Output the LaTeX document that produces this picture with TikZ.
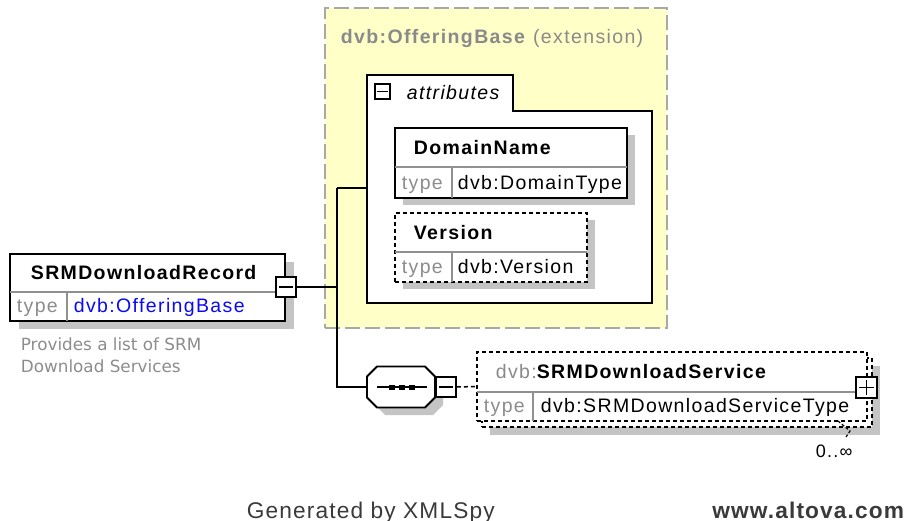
\documentclass[tikz,border=0pt]{standalone}
\usepackage{fontspec}
\setmainfont{Liberation Sans}
\newfontfamily\bxf{Liberation Sans}[LetterSpace=7]
\newfontfamily\dsf{DejaVu Sans}
\newfontfamily\ftf{Liberation Sans}[LetterSpace=5]
\definecolor{yel}{HTML}{FFFFC8}
\definecolor{yelborder}{HTML}{A8A8A8}
\definecolor{shd}{HTML}{C4C4C4}
\definecolor{divg}{HTML}{909090}
\definecolor{typeg}{HTML}{8C8C8C}
\definecolor{linkb}{HTML}{0A0AF5}
\definecolor{titleg}{HTML}{8A8A8A}
\definecolor{foot}{HTML}{3A3A3A}
\begin{document}
\begin{tikzpicture}[x=1pt,y=-1pt,line width=1.8pt,
  ebox/.style={draw=black,fill=white,line width=1.8pt,inner sep=0pt,minimum width=#1},
  dbox/.style={ebox=#1,dash pattern=on 4pt off 3pt},
  shadowbox/.style={fill=shd,draw=none,inner sep=0pt,minimum width=#1},
  divline/.style={draw=divg,line width=1.2pt},
  conn/.style={draw=black,line width=1.8pt},
  sq/.style={draw=black,fill=white,line width=1.8pt,inner sep=0pt,minimum size=#1},
  lbl/.style={inner sep=0pt,anchor=base west,font=\bxf\fontsize{19.5}{23}\selectfont},
  blbl/.style={lbl,font=\bxf\bfseries\fontsize{19.5}{23}\selectfont},
  tlbl/.style={lbl,text=typeg},
  desc/.style={inner sep=0pt,anchor=base west,text=typeg,font=\dsf\fontsize{16.8}{20}\selectfont},
  ftxt/.style={inner sep=0pt,anchor=base west,text=foot,font=\ftf\fontsize{22.7}{26}\selectfont}]
\useasboundingbox (0,0) rectangle (916,521);

% extension area
\node[fill=yel,draw=yelborder,line width=2pt,dash pattern=on 15pt off 5pt,minimum width=342pt,minimum height=320pt,inner sep=0pt] (ext) at (496,168) {};
\node[lbl,text=titleg] (exttitle) at (340,44) {\textbf{dvb:OfferingBase} (extension)};

% attributes group
\draw[black,fill=white,line width=1.8pt] (367,303) -- (367,75) -- (513,75) -- (513,111) -- (652,111) -- (652,303) -- cycle;
\coordinate (attrW) at (367,188);
\node[sq=15pt] (attrminus) at (382.5,91.5) {};
\draw[line width=1.5pt] ([xshift=3pt]attrminus.west) -- ([xshift=-3pt]attrminus.east);
\node[lbl,font=\bxf\itshape\fontsize{19.5}{23}\selectfont] (attrtxt) at (406,100) {attributes};

% DomainName
\node[shadowbox=232pt,minimum height=70pt] (domshadow) at (519,170) {};
\node[ebox=232pt,minimum height=70pt] (dom) at (511,163) {};
\draw[divline] (395,167) -- (627,167);
\draw[divline] (452,167) -- (452,198);
\node[blbl] (domname) at (413,155) {DomainName};
\node[tlbl] (domtype) at (401,190) {type};
\node[lbl] (domval) at (457,190) {dvb:DomainType};

% Version
\node[shadowbox=192pt,minimum height=69pt] (vershadow) at (499,254.5) {};
\node[dbox=192pt,minimum height=69pt] (ver) at (491,247.5) {};
\draw[divline] (395,252) -- (587,252);
\draw[divline] (452,252) -- (452,282);
\node[blbl] (vername) at (413,240) {Version};
\node[tlbl] (vertype) at (401,274) {type};
\node[lbl] (verval) at (457,274) {dvb:Version};

% SRMDownloadRecord
\node[shadowbox=275pt,minimum height=67pt] (srmshadow) at (156,296) {};
\node[ebox=275pt,minimum height=67pt] (srm) at (147.5,287.5) {};
\draw[divline] (10,292) -- (285,292);
\draw[divline] (67,292) -- (67,321);
\node[blbl] (srmname) at (30,280) {SRMDownloadRecord};
\node[tlbl] (srmtype) at (16,313) {type};
\node[lbl,text=linkb] (srmval) at (73,313) {dvb:OfferingBase};
\node[sq=20pt] (srmminus) at (286,287) {};
\draw[line width=1.5pt] ([xshift=4pt]srmminus.west) -- ([xshift=-4pt]srmminus.east);
\node[desc] (desc1) at (20,351) {Provides a list of SRM};
\node[desc] (desc2) at (20,373) {Download Services};

% sequence compositor (octagon)
\fill[shd] (385,374) -- (375,384) -- (375,405) -- (385,415) -- (433,415) -- (443,405) -- (443,384) -- (433,374) -- cycle;
\draw[black,fill=white,line width=1.8pt] (377,366.5) -- (367,376.5) -- (367,397.5) -- (377,407.5) -- (425,407.5) -- (435,397.5) -- (435,376.5) -- (425,366.5) -- cycle;
\coordinate (octW) at (367,387);
\coordinate (octE) at (435,387);
\draw[line width=1.5pt] (377,387) -- (427,387);
\foreach \dx in {391.5,401.5,411.5} \fill (\dx-3,384.5) rectangle (\dx+3,389.5);
\node[sq=20pt] (octminus) at (446,387) {};
\draw[line width=1.5pt] ([xshift=4pt]octminus.west) -- ([xshift=-4pt]octminus.east);

% SRMDownloadService element (0..unbounded)
\node[shadowbox=390pt,minimum height=69pt] (elshadow) at (685,400.5) {};
\node[dbox=390pt,minimum height=69pt] (elback) at (677,392.5) {};
\node[dbox=390pt,minimum height=69pt] (el) at (672,386.5) {};
\draw[divline] (477,392) -- (867,392);
\draw[divline] (533,392) -- (533,421);
\node[lbl] (elname) at (495,378) {\textcolor{titleg}{dvb:}\textbf{SRMDownloadService}};
\node[tlbl] (eltype) at (483,412) {type};
\node[lbl] (elval) at (540,412) {dvb:SRMDownloadServiceType};
\node[sq=21pt] (elplus) at (866.5,387.5) {};
\draw[line width=1.5pt] ([xshift=4pt]elplus.west) -- ([xshift=-4pt]elplus.east);
\draw[line width=1.5pt] ([yshift=-4pt]elplus.north) -- ([yshift=4pt]elplus.south);
\coordinate (occA) at (838,421);
\coordinate (occB) at (850,431);
\coordinate (occC) at (846,437);
\draw[line width=1.2pt,dash pattern=on 3pt off 2pt] (occA) -- (occB) -- (occC);
\node[lbl,font=\bxf\fontsize{18}{22}\selectfont] (occ) at (815,457) {0..∞};

% connectors
\coordinate (j1) at (337,287);
\coordinate (jtop) at (337,188);
\coordinate (jbot) at (337,387);
\draw[conn] (srmminus.east) -- (j1);
\draw[conn] (jtop) -- (attrW);
\draw[conn] (jtop) -- (jbot) -- (octW);
\draw[line width=1.5pt,dash pattern=on 4pt off 3pt] (octminus.east) -- (el.west);

% footer
\node[ftxt] (gen) at (246,518) {Generated by XMLSpy};
\node[ftxt,anchor=base east] (www) at (905,518) {\bfseries www.altova.com};
\end{tikzpicture}
\end{document}
